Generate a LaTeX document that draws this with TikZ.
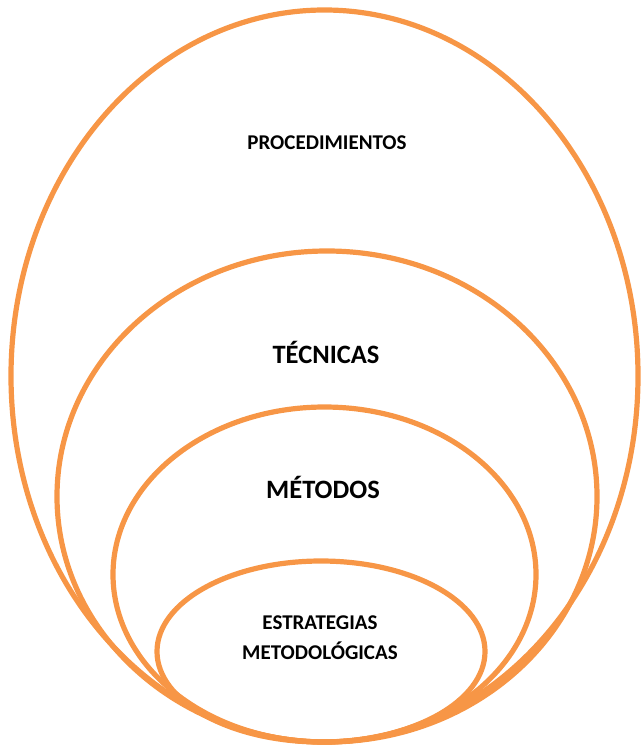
\documentclass[tikz,border=0pt]{standalone}
\usepackage{fontspec}
\setmainfont{Carlito}
\usetikzlibrary{shapes.geometric}
\definecolor{ring}{HTML}{F79646}
\tikzset{
  ring/.style={draw=ring, line width=5.2pt, ellipse, inner sep=0pt, minimum width=#1},
  lbl/.style={font=\bfseries\fontsize{21}{30}\selectfont, align=center, text=black},
  biglbl/.style={font=\bfseries\fontsize{26.5}{30}\selectfont, text=black}
}
\begin{document}
\begin{tikzpicture}[x=1pt,y=-1pt]
\useasboundingbox (0,0) rectangle (640,746);
\node[ring=627pt, minimum height=732pt] (proc) at (324.5,376) {};
\node[ring=540pt, minimum height=491pt] (tec) at (327,496.5) {};
\node[ring=423pt, minimum height=335pt] (met) at (324.5,574.5) {};
\node[ring=328pt, minimum height=181pt] (est) at (321,651.5) {};
\node[lbl] (tproc) at (327,143) {PROCEDIMIENTOS};
\node[biglbl] (ttec) at (326,352) {TÉCNICAS};
\node[biglbl] (tmet) at (323,487) {MÉTODOS};
\node[lbl] (test) at (320,638) {ESTRATEGIAS\\METODOLÓGICAS};
\end{tikzpicture}
\end{document}
